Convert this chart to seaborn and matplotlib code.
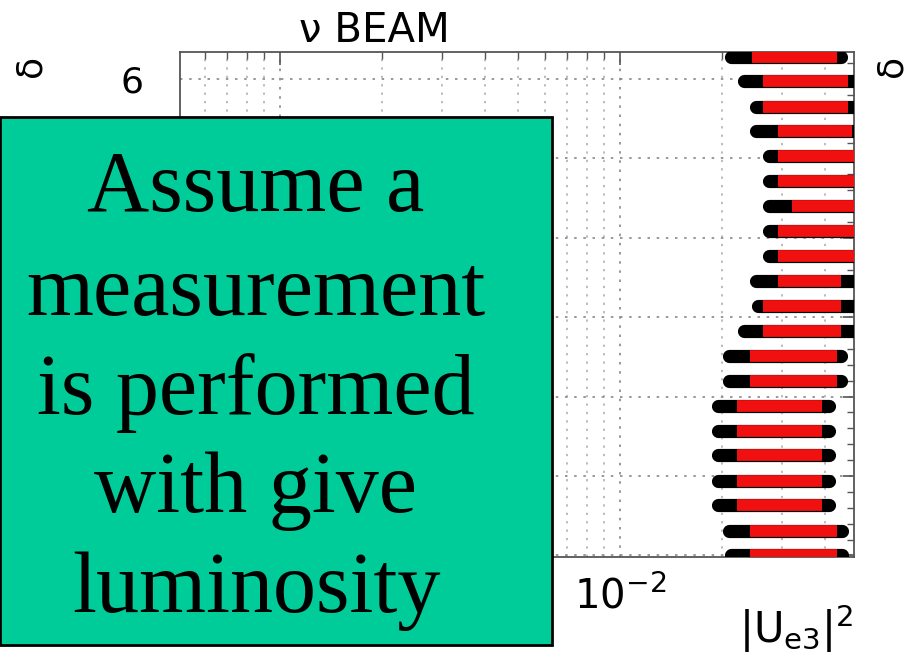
import numpy as np
import pandas as pd
import matplotlib
matplotlib.use("Agg")
import matplotlib.pyplot as plt
from matplotlib.patches import Rectangle
from matplotlib.ticker import FixedLocator, LogLocator, NullFormatter, MultipleLocator
import seaborn as sns

# ---- data ----
delta = [0.00, 0.31, 0.63, 0.94, 1.26, 1.57, 1.88, 2.20, 2.51, 2.83, 3.14,
         3.46, 3.77, 4.08, 4.40, 4.71, 5.03, 5.34, 5.65, 5.97, 6.28]
black_left = [0.0212, 0.0209, 0.0194, 0.0194, 0.0194, 0.0194, 0.0194, 0.0209, 0.0209, 0.0232, 0.0255,
              0.0251, 0.0274, 0.0274, 0.0274, 0.0274, 0.0274, 0.0251, 0.0251, 0.0232, 0.0212]
red_left = [0.0241, 0.0241, 0.0221, 0.0221, 0.0221, 0.0221, 0.0221, 0.0241, 0.0241, 0.0263, 0.0263,
            0.0292, 0.0292, 0.0292, 0.0321, 0.0292, 0.0292, 0.0292, 0.0263, 0.0263, 0.0245]
red_right = [0.0435, 0.0435, 0.0393, 0.0393, 0.0393, 0.0393, 0.0393, 0.0435, 0.0435, 0.0447, 0.0447,
             0.0447, 0.0600, 0.0600, 0.0600, 0.0600, 0.0600, 0.0481, 0.0468, 0.0468, 0.0435]
black_right = [0.0450, 0.0450, 0.0412, 0.0412, 0.0412, 0.0412, 0.0412, 0.0447, 0.0447, 0.0600, 0.0600,
               0.0600, 0.0600, 0.0600, 0.0600, 0.0600, 0.0600, 0.0600, 0.0600, 0.0600, 0.0447]
y_ticks = [0, 1, 2, 3, 4, 5, 6]
y_tick_labels = ["", "", "", "", "", "", "6"]          # 0-5 are hidden behind the box
x_ticks = [1e-3, 1e-2]
x_tick_labels = ["", r"$10^{-2}$"]                      # 10^-3 is hidden behind the box
title_text = "ν BEAM"
y_label = "δ"
x_label = r"$|U_{e3}|^2$"
box_lines = ["Assume a", "measurement", "is performed", "with give", "luminosity"]

black_df = pd.DataFrame({"delta": delta * 2, "u": black_left + black_right})
red_df = pd.DataFrame({"delta": delta * 2, "u": red_left + red_right})

sns.set_theme(style="white")
plt.rcParams["font.family"] = ["DejaVu Sans"]
plt.rcParams["mathtext.default"] = "regular"
plt.rcParams["text.color"] = "black"
plt.rcParams["axes.labelcolor"] = "black"

fig = plt.figure(figsize=(9.09, 6.55), dpi=100)
ax = fig.add_axes([180 / 909, 1 - 557 / 655, 674 / 909, 505 / 655])
ax.set_xscale("log")

sns.lineplot(data=black_df, x="u", y="delta", units="delta", estimator=None,
             color="black", lw=9.5, solid_capstyle="round", legend=False, ax=ax, zorder=3)
sns.lineplot(data=red_df, x="u", y="delta", units="delta", estimator=None,
             color="#f01010", lw=8.5, solid_capstyle="butt", legend=False, ax=ax, zorder=4)

ax.set_xlim(5.08e-4, 0.0488)
ax.set_ylim(-0.02, 6.34)

ax.set_yticks(y_ticks)
ax.set_yticklabels(y_tick_labels)
ax.yaxis.set_minor_locator(MultipleLocator(0.2))
ax.xaxis.set_major_locator(FixedLocator(x_ticks))
ax.set_xticklabels(x_tick_labels)
ax.xaxis.set_minor_locator(LogLocator(base=10, subs=np.arange(2, 10)))
ax.xaxis.set_minor_formatter(NullFormatter())

ax.tick_params(which="both", direction="in", top=True, right=True, colors="#555555",
               labelcolor="black", labelsize=26)
ax.tick_params(axis="x", which="major", labelsize=29)
ax.tick_params(axis="y", which="major", length=8, width=1.2, pad=26)
ax.tick_params(axis="y", which="minor", length=5, width=1.0)
ax.tick_params(axis="x", which="major", length=9, width=1.2, pad=14)
ax.tick_params(axis="x", which="minor", length=5, width=1.0)

ax.grid(True, which="major", axis="both", linestyle=(0, (1.5, 4)), color="#888888", lw=1.2)
ax.grid(True, which="minor", axis="x", linestyle=(0, (1.5, 4)), color="#aaaaaa", lw=1.1)
for s in ax.spines.values():
    s.set_color("#555555")
    s.set_linewidth(1.3)
    s.set_visible(True)

ax.set_xlabel(x_label, fontsize=30, loc="right")
ax.xaxis.set_label_coords(1.0, -0.091)
ax.set_ylabel(y_label, fontsize=26, loc="top")
ax.yaxis.set_label_coords(-0.196, 0.994)
ax.text(1.031, 0.994, y_label, rotation=90, fontsize=26, ha="left", va="top",
        transform=ax.transAxes)
ax.set_title(title_text, fontsize=29, x=0.289, y=1.0198, pad=0, color="black")

# green overlay box
fig.add_artist(Rectangle((0.0, 1 - 645 / 655), 552 / 909, (645 - 117) / 655,
                         transform=fig.transFigure, facecolor="#00cc99",
                         edgecolor="black", lw=2, zorder=5))
baselines = [211, 315, 414, 512, 612]
for line, b in zip(box_lines, baselines):
    fig.text(256 / 909, 1 - b / 655, line, ha="center", va="baseline",
             fontsize=62, family=["Liberation Serif", "DejaVu Serif"], color="black", zorder=6)

fig.savefig("out.png", dpi=100)
